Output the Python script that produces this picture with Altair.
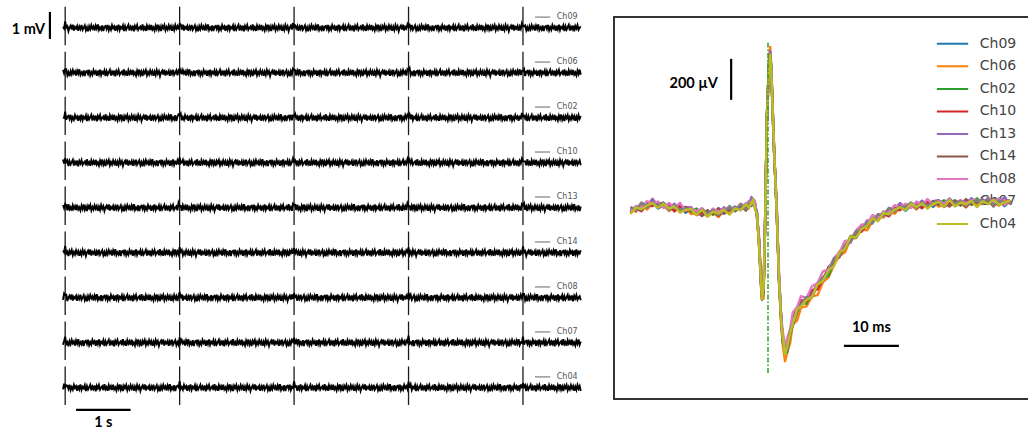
import altair as alt
import pandas as pd

alt.data_transformers.disable_max_rows()

CHANNELS = ["Ch09", "Ch06", "Ch02", "Ch10", "Ch13", "Ch14", "Ch08", "Ch07", "Ch04"]
COLORS = ["#1f77b4", "#ff7f0e", "#2ca02c", "#d62728", "#9467bd",
          "#8c564b", "#e377c2", "#7f7f7f", "#bcbd22"]

# ---------------- left panel: raw traces (s, mV) ----------------
LEFT_SAMPLE_S = 0.02
LEFT_N_SAMPLES = 476
LEFT_SPIKE_INDEX = [2, 107, 212, 317, 422]
LEFT_SPIKE_BUMP_MV = [0.06, 0.14, 0.05]
LEFT_SPIKE_TOP_MV = 0.82
LEFT_SPIKE_BOTTOM_MV = -0.66
LEFT_SPACING_MV = 1.73
LEFT_NOISE_MV = [0.05, -0.08, 0.11, -0.03, 0.07, -0.12, 0.02, 0.09, -0.06, 0.13,
                 -0.10, 0.04, -0.02, 0.08, -0.11, 0.06, -0.04, 0.12, -0.07, 0.01,
                 0.10, -0.09, 0.03, -0.13, 0.07, -0.05, 0.11, -0.02, 0.06, -0.10,
                 0.09, -0.03, 0.14, -0.08, 0.02, -0.06, 0.10, -0.12, 0.05, 0.08,
                 -0.04, 0.12, -0.09, 0.03, -0.07, 0.11, -0.01, 0.06, -0.11, 0.09,
                 -0.05, 0.13, -0.08, 0.04, -0.02, 0.10, -0.12, 0.07, -0.06, 0.03,
                 0.12, -0.10, 0.05, -0.04, 0.09, -0.13, 0.08, -0.02, 0.11, -0.07,
                 0.01, 0.06, -0.09, 0.14, -0.05, 0.03, -0.11, 0.10, -0.03, 0.07,
                 -0.08, 0.12, -0.06, 0.02, -0.10, 0.09, -0.04, 0.13, -0.07, 0.05,
                 -0.12, 0.08, -0.01, 0.11, -0.09, 0.04, -0.06, 0.10, -0.03, 0.07,
                 -0.11]

# ---------------- right panel: averaged waveforms (ms, µV) ----------------
TIME_MS = [-25, -24, -23, -22, -21, -20, -19, -18, -17, -16, -15, -14, -13, -12,
           -11, -10, -9, -8, -7, -6, -5, -4,
           -3.5, -3, -2.7, -2.4,
           -2.0, -1.6, -1.3, -1.1, -0.8, -0.55, -0.2,
           0.2, 0.4, 0.6, 1.1, 1.6, 2.0, 2.4, 2.7, 3.1, 3.5, 4.0, 4.5, 5.3,
           6, 7, 8, 9, 10, 11, 12, 13, 14, 15, 16, 17, 18, 19, 20, 21, 22, 23,
           24, 25, 26, 27, 28, 29, 30,
           31, 32, 33, 34, 35, 36, 37, 38, 39, 40, 41, 42, 43, 44]
MEAN_UV = [0, 5, 15, 20, 28, 25, 18, 15, 10, 8, 0, -5, -12, -15,
           -14, -12, -10, -8, -4, 2, 8, 14,
           25, 38, 40, 25,
           -25, -170, -340, -424, -390, -100, 440,
           720, 746, 680, 290, -10, -340, -537, -634, -683, -668, -610, -546, -498,
           -455, -440, -410, -375, -340, -300, -255, -215, -180, -145, -120, -95,
           -73, -52, -35, -22, -10, 0, 8, 14, 18, 22, 25, 27, 29,
           30, 28, 33, 35, 32, 34, 36, 33, 37, 38, 35, 39, 37, 36]
CH_GAIN = [1.00, 1.05, 1.02, 0.99, 1.01, 0.98, 0.96, 1.00, 1.00]
CH_OFFSET_UV = [0, -5, 3, -2, 6, 0, 8, 2, -3]
NOISE_UV = [8, -12, 15, -5, 10, -18, 4, 12, -9, 18, -14, 6, -3, 11, -16, 9, -6, 17,
            -10, 2, 14, -13, 5, -19, 10, -7, 16, -3, 8, -15, 13, -4, 20, -11, 3, -8,
            14, -17, 7, 11, -6, 17, -13, 4, -10, 15, -2, 9, -16, 12, -7, 19, -11, 6,
            -3, 14, -17, 10, -9, 5]

# ---------------- build tables ----------------
rows = []
for c, ch in enumerate(CHANNELS):
    base = -c * LEFT_SPACING_MV
    for k in range(LEFT_N_SAMPLES):
        v = base + LEFT_NOISE_MV[(k + 17 * c) % len(LEFT_NOISE_MV)]
        for s in LEFT_SPIKE_INDEX:
            j = k - s + 1
            if 0 <= j < len(LEFT_SPIKE_BUMP_MV):
                v += LEFT_SPIKE_BUMP_MV[j]
        rows.append({"ch": ch, "t": round(k * LEFT_SAMPLE_S, 3), "v": v})
left_df = pd.DataFrame(rows)

rows = []
for c, ch in enumerate(CHANNELS):
    base = -c * LEFT_SPACING_MV
    for s in LEFT_SPIKE_INDEX:
        rows.append({"ch": ch, "t": round(s * LEFT_SAMPLE_S, 3),
                     "v0": base + LEFT_SPIKE_BOTTOM_MV, "v1": base + LEFT_SPIKE_TOP_MV})
spike_df = pd.DataFrame(rows)

left_lab = pd.DataFrame({
    "ch": CHANNELS,
    "t0": [8.66] * 9, "t1": [8.94] * 9, "tt": [9.06] * 9,
    "v": [-c * LEFT_SPACING_MV + 0.42 for c in range(9)],
})

rows = []
for c, ch in enumerate(CHANNELS):
    for i, (t, u) in enumerate(zip(TIME_MS, MEAN_UV)):
        v = u * CH_GAIN[c] + CH_OFFSET_UV[c] + NOISE_UV[(i + 7 * c) % len(NOISE_UV)]
        rows.append({"ch": ch, "t": t, "v": v})
right_df = pd.DataFrame(rows)

legend_df = pd.DataFrame({
    "ch": CHANNELS,
    "t0": [30.7] * 9, "t1": [36.4] * 9, "tt": [38.5] * 9,
    "v": [810 - i * 109.8 for i in range(9)],
})

# ---------------- scales ----------------
SX_L = alt.Scale(domain=[0, 10], range=[63, 608])
SY_L = alt.Scale(domain=[-16, 1], range=[444, 2])
SX_R = alt.Scale(domain=[-28, 50], range=[614, 1043])
SY_R = alt.Scale(domain=[-922, 941], range=[399, 17])


def xl(f):
    return alt.X(f, type="quantitative", scale=SX_L, axis=None)


def yl(f):
    return alt.Y(f, type="quantitative", scale=SY_L, axis=None)


def xr(f):
    return alt.X(f, type="quantitative", scale=SX_R, axis=None)


def yr(f):
    return alt.Y(f, type="quantitative", scale=SY_R, axis=None)


BOLD = dict(font="Lato", fontWeight="bold", fontSize=14.5, color="black")

# ---------------- left layers ----------------
traces_l = alt.Chart(left_df).mark_line(color="black", strokeWidth=1.9).encode(
    x=xl("t"), y=yl("v"), detail="ch:N")
spikes_l = alt.Chart(spike_df).mark_rule(color="#1a1a1a", strokeWidth=1.3).encode(
    x=xl("t"), y=yl("v0"), y2="v1")
lab_rules = alt.Chart(left_lab).mark_rule(color="#666", strokeWidth=1).encode(
    x=xl("t0"), x2="t1", y=yl("v"))
lab_text = alt.Chart(left_lab).mark_text(
    align="left", baseline="middle", font="DejaVu Sans", fontSize=8, color="#555"
).encode(x=xl("tt"), y=yl("v"), text="ch:N")

mv_bar_df = pd.DataFrame({"t": [-0.24], "v0": [0.62], "v1": [-0.42], "tt": [-0.33], "vt": [-0.08], "lab": ["1 mV"]})
mv_bar = alt.Chart(mv_bar_df).mark_rule(color="black", strokeWidth=2.2).encode(
    x=xl("t"), y=yl("v0"), y2="v1")
mv_text = alt.Chart(mv_bar_df).mark_text(align="right", baseline="middle", **BOLD).encode(
    x=xl("tt"), y=yl("vt"), text="lab:N")

s_bar_df = pd.DataFrame({"t0": [0.24], "t1": [1.24], "v": [-14.69], "tt": [0.74], "vt": [-15.2], "lab": ["1 s"]})
s_bar = alt.Chart(s_bar_df).mark_rule(color="black", strokeWidth=2.2).encode(
    x=xl("t0"), x2="t1", y=yl("v"))
s_text = alt.Chart(s_bar_df).mark_text(align="center", baseline="middle", **BOLD).encode(
    x=xl("tt"), y=yl("vt"), text="lab:N")

left = alt.layer(spikes_l, traces_l, lab_rules, lab_text, mv_bar, mv_text, s_bar, s_text)

# ---------------- right layers ----------------
frame_df = pd.DataFrame({"t0": [-28], "t1": [50], "v0": [-922], "v1": [941]})
frame = alt.Chart(frame_df).mark_rect(filled=False, stroke="#333", strokeWidth=2).encode(
    x=xr("t0"), x2="t1", y=yr("v0"), y2="v1")

leg_rules = alt.Chart(legend_df).mark_rule(strokeWidth=2).encode(
    x=xr("t0"), x2="t1", y=yr("v"),
    color=alt.Color("ch:N", scale=alt.Scale(domain=CHANNELS, range=COLORS), legend=None))
leg_text = alt.Chart(legend_df).mark_text(
    align="left", baseline="middle", font="DejaVu Sans", fontSize=14, color="#444"
).encode(x=xr("tt"), y=yr("v"), text="ch:N")

wave_layers = []
for c, ch in enumerate(CHANNELS):
    wave_layers.append(
        alt.Chart(right_df[right_df["ch"] == ch]).mark_line(
            color=COLORS[c], strokeWidth=2.4, strokeJoin="round").encode(x=xr("t"), y=yr("v")))

green_df = pd.DataFrame({"t": [0], "v0": [-795], "v1": [815]})
green = alt.Chart(green_df).mark_rule(color="#2ca02c", strokeWidth=1.5,
                                      strokeDash=[5, 2, 1.5, 2]).encode(
    x=xr("t"), y=yr("v0"), y2="v1")

uv_df = pd.DataFrame({"t": [-6.7], "v0": [537], "v1": [737], "tt": [-9.1], "vt": [615], "lab": ["200 µV"]})
uv_bar = alt.Chart(uv_df).mark_rule(color="black", strokeWidth=2.2).encode(
    x=xr("t"), y=yr("v0"), y2="v1")
uv_text = alt.Chart(uv_df).mark_text(align="right", baseline="middle", **BOLD).encode(
    x=xr("tt"), y=yr("vt"), text="lab:N")

ms_df = pd.DataFrame({"t0": [13.8], "t1": [23.8], "v": [-663], "tt": [18.8], "vt": [-576], "lab": ["10 ms"]})
ms_bar = alt.Chart(ms_df).mark_rule(color="black", strokeWidth=2.2).encode(
    x=xr("t0"), x2="t1", y=yr("v"))
ms_text = alt.Chart(ms_df).mark_text(align="center", baseline="middle", **BOLD).encode(
    x=xr("tt"), y=yr("vt"), text="lab:N")

right = alt.layer(frame, leg_rules, leg_text, *wave_layers, green, uv_bar, uv_text, ms_bar, ms_text)

chart = alt.layer(left, right).resolve_scale(x="independent", y="independent").properties(
    width=1028, height=432, padding=0,
    autosize=alt.AutoSizeParams(type="none"),
    background="white",
).configure_view(stroke=None)

chart.save("out.html", embed_options={"renderer": "svg", "actions": False})
